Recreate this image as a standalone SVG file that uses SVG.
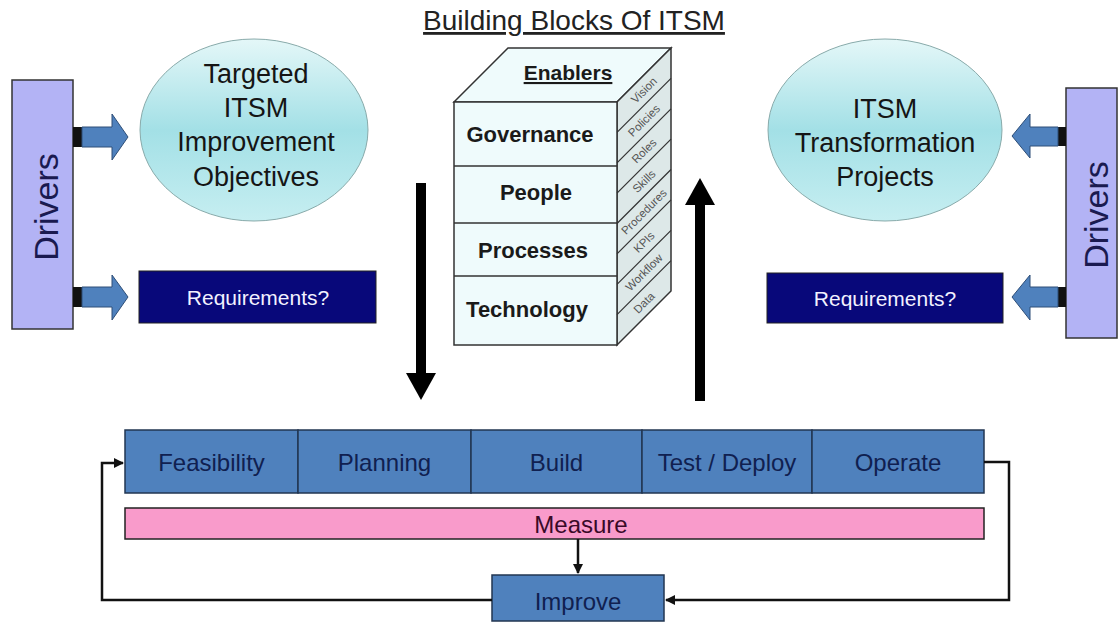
<svg xmlns="http://www.w3.org/2000/svg" width="1120" height="623" viewBox="0 0 1120 623">
<defs>
<style>
.t{font-family:"Liberation Sans",Arial,sans-serif}
.drv{fill:#b3b3f5;stroke:#333;stroke-width:1.5}
.drvt{font-size:34px;fill:#1a1a50;text-anchor:middle;dominant-baseline:central}
.ell{fill:url(#eg);stroke:#8aa;stroke-width:1}
.et{font-size:27px;fill:#151515;text-anchor:middle}
.req{fill:#08087a;stroke:#222;stroke-width:1}
.reqt{font-size:21px;fill:#f2f2ff;text-anchor:middle;dominant-baseline:central}
.barr{fill:#4f81bd;stroke:#2f4f78;stroke-width:1}
.stripe{fill:#111}
.proc{fill:#4f81bd;stroke:#223652;stroke-width:1.5}
.pt{font-size:24px;fill:#102050;text-anchor:middle;dominant-baseline:central}
.cf{fill:#effbfc;stroke:#333;stroke-width:1.5}
.ct{font-size:22px;font-weight:bold;fill:#1a1a1a;text-anchor:middle}
.side{fill:#dde8e8;stroke:#333;stroke-width:1.5}
.st{font-size:11.5px;fill:#555;text-anchor:middle;dominant-baseline:central}
.ln{fill:none;stroke:#111;stroke-width:2.5}
</style>
<linearGradient id="eg" x1="0" y1="0" x2="0" y2="1">
<stop offset="0" stop-color="#e4f7f8"/>
<stop offset="0.5" stop-color="#a3e0e6"/>
<stop offset="1" stop-color="#c6eef1"/>
</linearGradient>
<marker id="ah" viewBox="0 0 10 10" refX="9" refY="5" markerWidth="4" markerHeight="4" orient="auto" markerUnits="strokeWidth">
<path d="M0,0 L10,5 L0,10 z" fill="#111"/>
</marker>
</defs>
<rect width="1120" height="623" fill="#fff"/>

<text class="t" x="574" y="30" font-size="28" fill="#222" text-anchor="middle" text-decoration="underline">Building Blocks Of ITSM</text>

<g id="drivers-left">
<rect class="drv" x="12" y="80" width="61" height="249"/>
<text class="t drvt" x="46" y="207" transform="rotate(-90 46 207)">Drivers</text>
</g>
<g id="drivers-right">
<rect class="drv" x="1066" y="88" width="51" height="250"/>
<text class="t drvt" x="1096" y="215" transform="rotate(-90 1096 215)">Drivers</text>
</g>

<g id="objectives">
<ellipse class="ell" cx="254" cy="130" rx="114" ry="91"/>
<text class="t et" x="256" y="83">Targeted</text>
<text class="t et" x="256" y="117">ITSM</text>
<text class="t et" x="256" y="151">Improvement</text>
<text class="t et" x="256" y="186">Objectives</text>
</g>
<g id="projects">
<ellipse class="ell" cx="885" cy="130" rx="117" ry="91"/>
<text class="t et" x="885" y="118">ITSM</text>
<text class="t et" x="885" y="152">Transformation</text>
<text class="t et" x="885" y="186">Projects</text>
</g>

<g id="req-left">
<rect class="req" x="139" y="271" width="237" height="52"/>
<text class="t reqt" x="258" y="297">Requirements?</text>
</g>
<g id="req-right">
<rect class="req" x="767" y="273" width="236" height="50"/>
<text class="t reqt" x="885" y="298">Requirements?</text>
</g>

<g id="enablers">
<polygon class="cf" points="454,102 508,48 671,48 617,102"/>
<polygon class="side" points="617,102 671,48 671,291 617,345"/>
<rect class="cf" x="454" y="102" width="163" height="243"/>
<line x1="454" y1="166" x2="617" y2="166" stroke="#333" stroke-width="1.5"/>
<line x1="454" y1="223" x2="617" y2="223" stroke="#333" stroke-width="1.5"/>
<line x1="454" y1="276" x2="617" y2="276" stroke="#333" stroke-width="1.5"/>
<g stroke="#333" stroke-width="1.2">
<line x1="617" y1="132.4" x2="671" y2="78.4"/>
<line x1="617" y1="162.8" x2="671" y2="108.8"/>
<line x1="617" y1="193.1" x2="671" y2="139.1"/>
<line x1="617" y1="223.5" x2="671" y2="169.5"/>
<line x1="617" y1="253.9" x2="671" y2="199.9"/>
<line x1="617" y1="284.3" x2="671" y2="230.3"/>
<line x1="617" y1="314.6" x2="671" y2="260.6"/>
</g>
<text class="t" x="568" y="80" font-size="21" font-weight="bold" fill="#1a1a1a" text-anchor="middle" text-decoration="underline">Enablers</text>
<text class="t ct" x="530" y="142">Governance</text>
<text class="t ct" x="536" y="200">People</text>
<text class="t ct" x="533" y="258">Processes</text>
<text class="t ct" x="527" y="317">Technology</text>
<text class="t st" x="644" y="90.2" transform="rotate(-45 644 90.2)">Vision</text>
<text class="t st" x="644" y="120.6" transform="rotate(-45 644 120.6)">Policies</text>
<text class="t st" x="644" y="150.9" transform="rotate(-45 644 150.9)">Roles</text>
<text class="t st" x="644" y="181.3" transform="rotate(-45 644 181.3)">Skills</text>
<text class="t st" x="644" y="211.7" transform="rotate(-45 644 211.7)">Procedures</text>
<text class="t st" x="644" y="242.1" transform="rotate(-45 644 242.1)">KPIs</text>
<text class="t st" x="644" y="272.4" transform="rotate(-45 644 272.4)">Workflow</text>
<text class="t st" x="644" y="302.8" transform="rotate(-45 644 302.8)">Data</text>
</g>

<g id="lifecycle">
<rect class="proc" x="125" y="430" width="173" height="63"/>
<text class="t pt" x="211.5" y="462">Feasibility</text>
<rect class="proc" x="298" y="430" width="173" height="63"/>
<text class="t pt" x="384.5" y="462">Planning</text>
<rect class="proc" x="471" y="430" width="171" height="63"/>
<text class="t pt" x="556.5" y="462">Build</text>
<rect class="proc" x="642" y="430" width="170" height="63"/>
<text class="t pt" x="727" y="462">Test / Deploy</text>
<rect class="proc" x="812" y="430" width="172" height="63"/>
<text class="t pt" x="898" y="462">Operate</text>
</g>

<g id="measure">
<rect x="125" y="508" width="859" height="31" fill="#f99bcb" stroke="#222" stroke-width="1.5"/>
<text class="t pt" x="581" y="524" style="fill:#3a0a28">Measure</text>
</g>

<g id="improve">
<rect class="proc" x="492" y="575" width="172" height="46"/>
<text class="t pt" x="578" y="601">Improve</text>
</g>

<g id="connectors">
<polygon class="stripe" points="73,127 82,127 82,147 73,147"/>
<polygon class="barr" points="82,127 112,127 112,114 128,137 112,160 112,147 82,147"/>
<polygon class="stripe" points="73,287 82,287 82,307 73,307"/>
<polygon class="barr" points="82,287 112,287 112,275 128,297 112,320 112,307 82,307"/>
<polygon class="stripe" points="1058,127 1066,127 1066,146 1058,146"/>
<polygon class="barr" points="1058,127 1030,127 1030,114 1012,136 1030,158 1030,146 1058,146"/>
<polygon class="stripe" points="1058,287 1066,287 1066,307 1058,307"/>
<polygon class="barr" points="1058,287 1030,287 1030,275 1012,297 1030,320 1030,307 1058,307"/>
<rect x="416" y="183" width="10" height="191" fill="#000"/>
<polygon points="406,373 436,373 421,400" fill="#000"/>
<rect x="695" y="204" width="10" height="197" fill="#000"/>
<polygon points="685,205 715,205 700,178" fill="#000"/>
<path class="ln" d="M578,539 L578,573" marker-end="url(#ah)"/>
<path class="ln" d="M984,462 L1009,462 L1009,600 L666,600" marker-end="url(#ah)"/>
<path class="ln" d="M492,600 L102,600 L102,463 L123,463" marker-end="url(#ah)"/>
</g>
</svg>
